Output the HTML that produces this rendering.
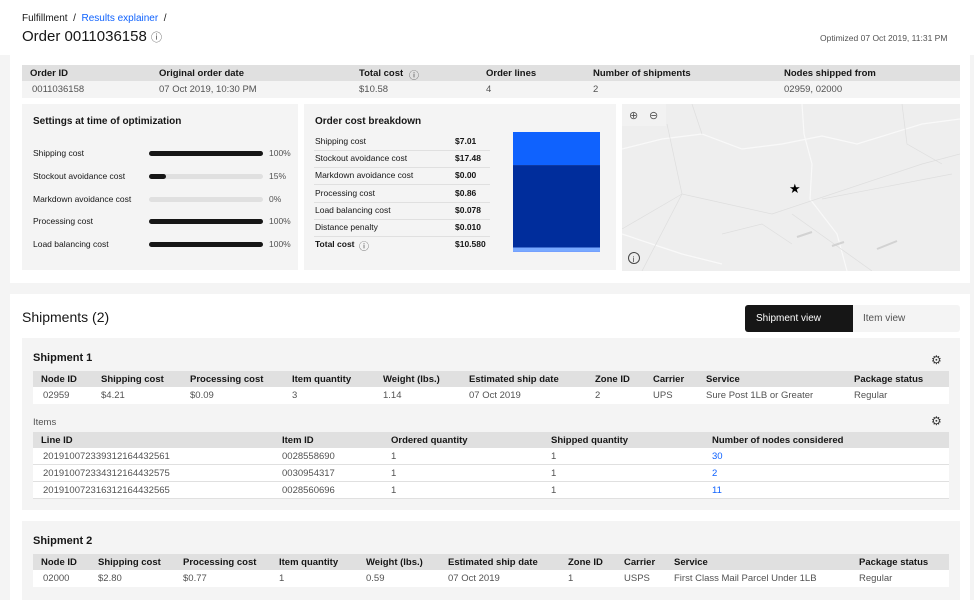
<!DOCTYPE html>
<html><head><meta charset="utf-8">
<style>
*{box-sizing:border-box;margin:0;padding:0}
body{width:974px;height:600px;overflow:hidden;background:#f4f4f4;font-family:"Liberation Sans",sans-serif;color:#161616;position:relative}
.a{position:absolute;white-space:nowrap}
.t{font-size:9.5px;color:#525252}
.h{font-size:9.5px;font-weight:bold;color:#161616}
.hd{position:absolute;background:#e0e0e0}
.rw{position:absolute;background:#f4f4f4}
.wr{position:absolute;background:#fff;border-bottom:1px solid #e0e0e0}
.ic{font-weight:normal;font-size:9px;line-height:9px;vertical-align:top}
</style></head><body>
<div class="a" style="left:0;top:0;width:974px;height:55px;background:#fff"></div>
<div class="a" style="left:22px;top:13px;font-size:10px"><span>Fulfillment</span> &nbsp;/ &nbsp;<span style="color:#0f62fe">Results explainer</span> &nbsp;/</div>
<div class="a" style="left:22px;top:28px;font-size:15px">Order 0011036158 <span style="font-size:11px;color:#525252">ⓘ</span></div>
<div class="a" style="left:820px;top:33px;font-size:8.5px;color:#525252">Optimized 07 Oct 2019, 11:31 PM</div>

<div class="a" style="left:10px;top:55px;width:960px;height:228px;background:#fff"></div>
<div class="hd" style="left:22px;top:65px;width:938px;height:16px"></div>
<div class="rw" style="left:22px;top:81px;width:938px;height:17px"></div>
<div class="a h" style="left:30px;top:68px">Order ID</div>
<div class="a h" style="left:159px;top:68px">Original order date</div>
<div class="a h" style="left:359px;top:68px">Total cost</div>
<div class="a" style="left:409px;top:67px;font-size:10px;color:#525252">ⓘ</div>
<div class="a h" style="left:486px;top:68px">Order lines</div>
<div class="a h" style="left:593px;top:68px">Number of shipments</div>
<div class="a h" style="left:784px;top:68px">Nodes shipped from</div>
<div class="a t" style="left:32px;top:84px">0011036158</div>
<div class="a t" style="left:159px;top:84px">07 Oct 2019, 10:30 PM</div>
<div class="a t" style="left:359px;top:84px">$10.58</div>
<div class="a t" style="left:486px;top:84px">4</div>
<div class="a t" style="left:593px;top:84px">2</div>
<div class="a t" style="left:784px;top:84px">02959, 02000</div>

<div class="a" style="left:22px;top:104px;width:276px;height:166px;background:#f4f4f4"></div>
<div class="a h" style="left:33px;top:116px;font-size:10px">Settings at time of optimization</div>

<div class="a" style="left:304px;top:104px;width:312px;height:166px;background:#f4f4f4"></div>
<div class="a h" style="left:315px;top:116px;font-size:10px">Order cost breakdown</div>
<svg class="a" style="left:0;top:0" width="974" height="300" id="stack"></svg>

<svg class="a" style="left:622px;top:104px" width="338" height="167">
<rect width="338" height="167" fill="#eeeeee"/>
<g fill="none" stroke="#f9f9f9" stroke-width="1.2">
<path d="M0 45 L40 35 L80 30 L120 45 L160 40 L200 32 L235 40 L300 20 L338 15"/>
<path d="M180 0 L182 30 L190 60 L188 95 L215 130 L225 167"/>
<path d="M0 130 L60 150 L100 160"/>
</g>
<g fill="none" stroke="#dedede" stroke-width="0.7">
<path d="M45 20 L60 90 L0 125"/><path d="M60 90 L150 110 L300 60 L338 50"/><path d="M60 90 L20 167"/>
<path d="M170 110 L250 167"/><path d="M70 0 L80 30"/><path d="M280 0 L285 40 L320 60"/><path d="M100 130 L140 120 L170 140"/>
<path d="M200 95 L330 70"/></g>
<path d="M175 133 L190 128 M255 145 L275 137 M210 142 L222 138" stroke="#d2d2d2" stroke-width="2"/>
<rect width="44" height="22" fill="#f2f2f2"/>
<text x="7" y="15" font-size="11" fill="#525252" font-family="Liberation Sans">⊕</text>
<text x="27" y="15" font-size="11" fill="#525252" font-family="Liberation Sans">⊖</text>
<text x="167" y="89" font-size="13" fill="#000" font-family="DejaVu Sans">★</text>
<circle cx="12" cy="154" r="5.5" fill="none" stroke="#444"/><text x="10.5" y="158" font-size="8" fill="#444" font-family="Liberation Sans">i</text>
</svg>

<div class="a" style="left:10px;top:294px;width:960px;height:306px;background:#fff"></div>
<div class="a" style="left:22px;top:309px;font-size:14px">Shipments (2)</div>
<div class="a" style="left:745px;top:305px;width:215px;height:27px;background:#f4f4f4;border-radius:3px"></div>
<div class="a" style="left:745px;top:305px;width:108px;height:27px;background:#161616;color:#fff;font-size:10px;padding:8px 0 0 11px;border-radius:3px 0 0 3px">Shipment view</div>
<div class="a" style="left:863px;top:313px;font-size:10px;color:#525252">Item view</div>

<div class="a" style="left:22px;top:338px;width:938px;height:172px;background:#f4f4f4"></div>
<div class="a h" style="left:33px;top:352px;font-size:11px">Shipment 1</div>
<div class="a" style="left:931px;top:353px;font-size:12px;color:#333">⚙</div>
<div class="a t" style="left:33px;top:417px">Items</div>
<div class="a" style="left:931px;top:414px;font-size:12px;color:#333">⚙</div>

<div class="a" style="left:22px;top:521px;width:938px;height:79px;background:#f4f4f4"></div>
<div class="a h" style="left:33px;top:535px;font-size:11px">Shipment 2</div>

<script>
const settingLabels=["Shipping cost","Stockout avoidance cost","Markdown avoidance cost","Processing cost","Load balancing cost"];
const settingValues=[100,15,0,100,100];
const costLabels=["Shipping cost","Stockout avoidance cost","Markdown avoidance cost","Processing cost","Load balancing cost","Distance penalty"];
const costValues=[7.01,17.48,0.00,0.86,0.078,0.010];
const costText=["$7.01","$17.48","$0.00","$0.86","$0.078","$0.010"];
const stackColors=["#0f62fe","#002d9c","#a6c8ff","#78a9ff","#4589ff","#8a3ffc"];

function el(tag,cls,style,txt,parent){const e=document.createElement(tag);if(cls)e.className=cls;e.style.cssText=style;if(txt!=null)e.textContent=txt;(parent||document.body).appendChild(e);return e;}
settingLabels.forEach((l,i)=>{const y=148+i*22.8;
const a=el('div','a t',`left:33px;top:${y}px;font-size:8.5px;color:#161616`,l);


const tr=el('div','a',`left:149px;top:${y+3}px;width:114px;height:5px;background:#e0e0e0;border-radius:3px`);


const f=el('div','a',`left:149px;top:${y+3}px;width:${114*settingValues[i]/100}px;height:5px;background:#161616;border-radius:3px`);


const p=el('div','a t',`left:269px;top:${y}px;font-size:8.5px`,settingValues[i]+'%');


});
costLabels.forEach((l,i)=>{const y=136+i*17.2;
const a=el('div','a t',`left:315px;top:${y}px;font-size:8.5px;color:#161616`,l);


const v=el('div','a h',`left:455px;top:${y}px;font-size:8.5px`,costText[i]);


const s=el('div','a',`left:314px;top:${y+14}px;width:176px;height:1px;background:#e0e0e0`);


});
const tl=el('div','a h',`left:315px;top:239px;font-size:8.5px`,'Total cost');


const ti=el('div','a',`left:359px;top:238px;font-size:10px;color:#525252`,'ⓘ');


const tv=el('div','a h',`left:455px;top:239px;font-size:8.5px`,'$10.580');


const svg=document.getElementById('stack');const total=costValues.reduce((a,b)=>a+b,0);
const yTop=132,yH=120,bx=513,bw=87;const yS=v=>v/total*yH;
let acc=0;costValues.forEach((v,i)=>{const r=document.createElementNS('http://www.w3.org/2000/svg','rect');
r.setAttribute('x',bx);r.setAttribute('y',yTop+yS(acc));r.setAttribute('width',bw);r.setAttribute('height',Math.max(yS(v),0));r.setAttribute('fill',stackColors[i]);


svg.appendChild(r);acc+=v;});
function table(x,w,y,cols,xs,rows,prefix,white,links){
const h=el('div','hd',`left:${x}px;top:${y}px;width:${w}px;height:16px`);


cols.forEach((c,i)=>{const e=el('div','a h',`left:${xs[i]}px;top:${y+3}px`,c);

});
rows.forEach((r,j)=>{const ry=y+16+j*17;
const row=el('div',white?'wr':'rw',`left:${x}px;top:${ry}px;width:${w}px;height:17px;background:#fff`);


r.forEach((c,i)=>{const e=el('div','a t',`left:${xs[i]+(i==0?2:0)}px;top:${ry+3}px;${links&&i==r.length-1?'color:#0f62fe':''}`,c);

});});}
const shipCols=["Node ID","Shipping cost","Processing cost","Item quantity","Weight (lbs.)","Estimated ship date","Zone ID","Carrier","Service","Package status"];
table(33,916,371,shipCols,[41,101,190,292,383,469,595,653,706,854],[["02959","$4.21","$0.09","3","1.14","07 Oct 2019","2","UPS","Sure Post 1LB or Greater","Regular"]],'shipment-1-table');
table(33,916,432,["Line ID","Item ID","Ordered quantity","Shipped quantity","Number of nodes considered"],[41,282,391,551,712],
[["201910072339312164432561","0028558690","1","1","30"],["201910072334312164432575","0030954317","1","1","2"],["201910072316312164432565","0028560696","1","1","11"]],'items-table',true,true);
table(33,916,554,shipCols,[41,98,183,279,366,448,568,624,674,859],[["02000","$2.80","$0.77","1","0.59","07 Oct 2019","1","USPS","First Class Mail Parcel Under 1LB","Regular"]],'shipment-2-table');
</script>
</body></html>
